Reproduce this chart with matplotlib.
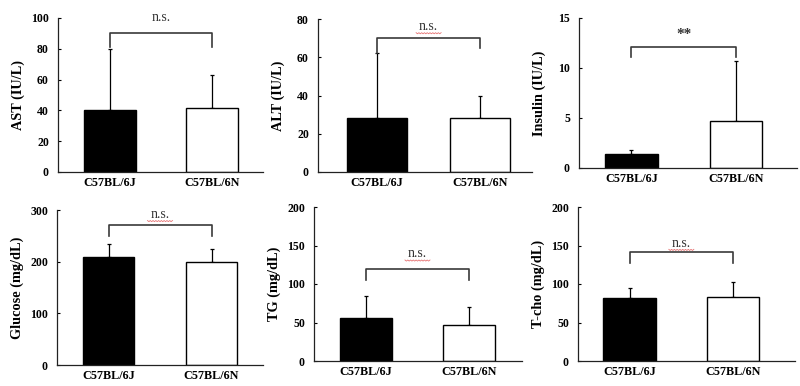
import matplotlib
matplotlib.use("Agg")
import matplotlib.pyplot as plt
import numpy as np

# ---------------- data ----------------
groups = ["C57BL/6J", "C57BL/6N"]
panel_names = ["AST (IU/L)", "ALT (IU/L)", "Insulin (IU/L)",
               "Glucose (mg/dL)", "TG (mg/dL)", "T-cho (mg/dL)"]

ast_mean = [40.5, 41.5]
ast_err = [39.5, 21.5]
alt_mean = [28, 28]
alt_err = [34, 12]
ins_mean = [1.4, 4.7]
ins_err = [0.4, 6.0]
glu_mean = [209, 199]
glu_err = [25, 25]
tg_mean = [55.7, 46.5]
tg_err = [28.6, 23.1]
tc_mean = [82.2, 83.5]
tc_err = [12.6, 18.5]

means = [ast_mean, alt_mean, ins_mean, glu_mean, tg_mean, tc_mean]
errs = [ast_err, alt_err, ins_err, glu_err, tg_err, tc_err]

y_max = [100, 80, 15, 300, 200, 200]
y_step = [20, 20, 5, 100, 50, 50]

# significance brackets: bracket height, left leg end, right leg end, label, label baseline
bracket_y = [90, 70, 12.1, 271, 120, 141]
leg_left = [81, 62, 11.1, 250, 105, 127]
leg_right = [81, 65, 11.1, 250, 105, 127]
sig_label = ["n.s.", "n.s.", "**", "n.s.", "n.s.", "n.s."]
sig_y = [98.2, 74.3, 13.0, 285, 134.8, 148.6]
spell_mark = [False, True, False, True, True, True]

# ---------------- layout (pixel boxes: left, right, top, bottom) ----------------
W, H = 800, 386
boxes = [(58, 263, 18, 172), (318, 532, 19, 172), (579, 797, 18, 168),
         (57, 263, 210, 365), (314, 522, 207, 361), (578, 795, 207, 361)]
xlims = [(-0.51, 1.5), (-0.57, 1.5), (-0.5, 1.58),
         (-0.5, 1.5), (-0.5, 1.51), (-0.5, 1.6)]
bar_w = [0.51, 0.58, 0.5, 0.5, 0.5, 0.51]

serif = "Liberation Serif"
fig = plt.figure(figsize=(W / 100, H / 100), dpi=100)
fig.patch.set_facecolor("white")

for i in range(6):
    l, r, t, b = boxes[i]
    ax = fig.add_axes([l / W, (H - b) / H, (r - l) / W, (b - t) / H])
    ax.set_xlim(*xlims[i])
    ax.set_ylim(0, y_max[i])
    xs = [0, 1]
    ax.bar(xs, means[i], width=bar_w[i], color=["black", "white"],
           edgecolor="black", linewidth=1.0, zorder=2)
    for k in range(2):
        ax.errorbar(xs[k], means[i][k], yerr=[[0], [errs[i][k]]], fmt="none",
                    ecolor="black", elinewidth=0.9, capsize=1.6, capthick=0.9,
                    zorder=1)
    # bracket
    ax.plot([0, 0, 1, 1], [leg_left[i], bracket_y[i], bracket_y[i], leg_right[i]],
            color="#3a3a3a", linewidth=1.2, clip_on=False, zorder=3)
    ax.set_xlim(*xlims[i])
    ax.set_ylim(0, y_max[i])
    if sig_label[i] == "**":
        ax.text(0.5, sig_y[i], sig_label[i], ha="center", va="baseline",
                fontsize=11, fontfamily=serif, fontweight="bold",
                color="#333333", clip_on=False)
    else:
        ax.text(0.5, sig_y[i], sig_label[i], ha="center", va="baseline",
                fontsize=10, fontfamily=serif, color="#333333", clip_on=False)
        if spell_mark[i]:
            # faint red spell-check squiggle under the label
            base = ax.transData.transform((0.5, sig_y[i]))
            sx = np.linspace(-9, 9, 19)
            sy = np.where(np.arange(19) % 2 == 0, 0.0, -0.8)
            pts = np.column_stack([base[0] + sx * 100 / 72,
                                   base[1] + (sy - 2.0) * 100 / 72])
            dpts = ax.transData.inverted().transform(pts)
            ax.plot(dpts[:, 0], dpts[:, 1], color="#e05050", linewidth=0.6,
                    alpha=0.8, clip_on=False, zorder=3)
    ax.set_xlim(*xlims[i])
    ax.set_ylim(0, y_max[i])

    ticks = [y_step[i] * n for n in range(int(round(y_max[i] / y_step[i])) + 1)]
    ax.set_yticks(ticks)
    ax.set_yticklabels([str(v) for v in ticks])
    ax.set_xticks(xs)
    ax.set_xticklabels(groups)
    for sp in ["top", "right"]:
        ax.spines[sp].set_visible(False)
    for sp in ["left", "bottom"]:
        ax.spines[sp].set_linewidth(0.9)
        ax.spines[sp].set_color("#222222")
    ax.tick_params(axis="y", direction="in", length=2.5, width=0.8, pad=6.5,
                   labelsize=8.5)
    ax.tick_params(axis="x", length=0, pad=3.5, labelsize=8.7)
    for lab in ax.get_xticklabels() + ax.get_yticklabels():
        lab.set_fontfamily(serif)
        lab.set_fontweight("bold")
    ax.set_ylabel(panel_names[i], fontsize=10.3, fontfamily=serif,
                  fontweight="bold")
    ax.yaxis.set_label_coords(-33 / (r - l), 0.5)
    ax.set_facecolor("white")

fig.savefig("out.png", dpi=100, facecolor="white")
